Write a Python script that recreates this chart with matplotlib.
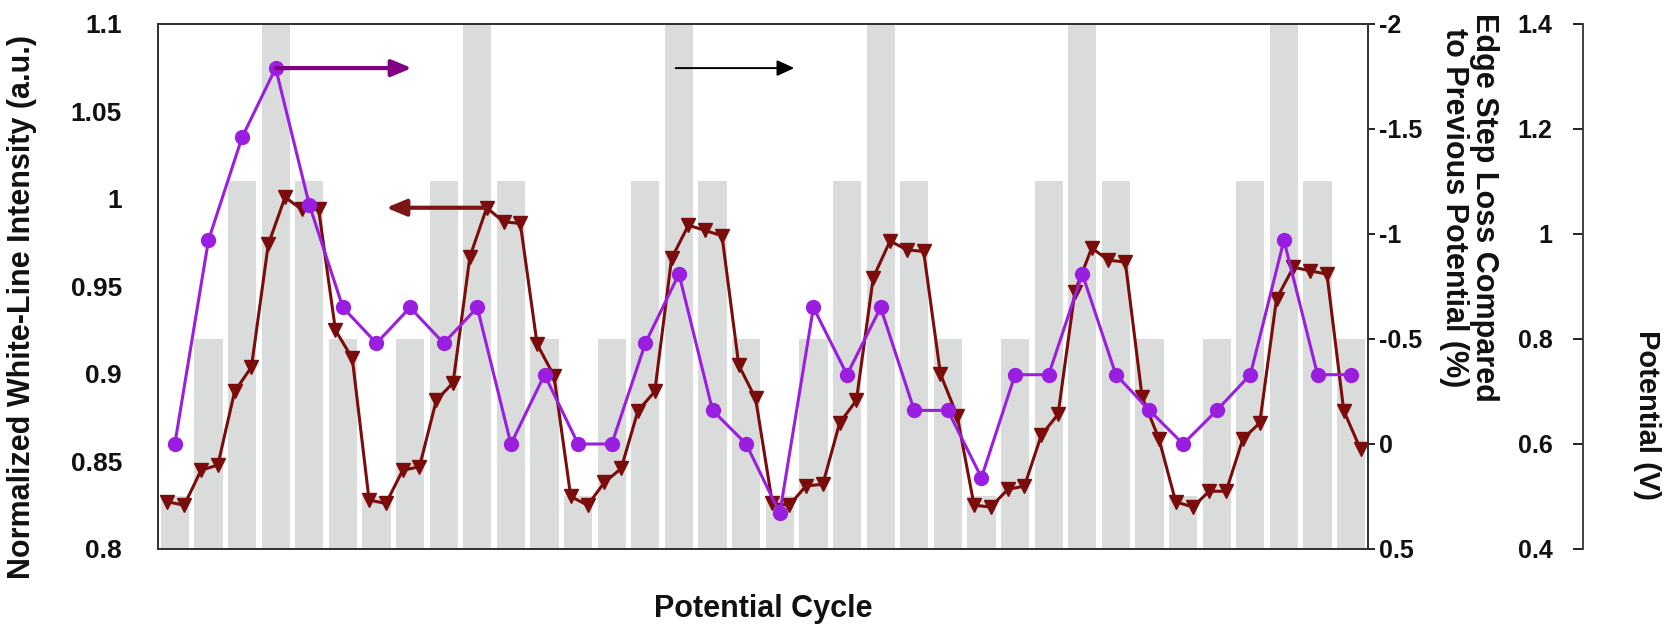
import numpy as np
import matplotlib
matplotlib.use("Agg")
from matplotlib import pyplot as plt
from matplotlib.ticker import FuncFormatter

plt.rcParams['font.family'] = ['Liberation Sans', 'DejaVu Sans']
plt.rcParams['font.weight'] = 'bold'
plt.rcParams['axes.labelweight'] = 'bold'

# applied potential for every step of the cycling (V)
potential = [0.5, 0.8, 1.1, 1.4, 1.1, 0.8,
             0.5, 0.8, 1.1, 1.4, 1.1, 0.8,
             0.5, 0.8, 1.1, 1.4, 1.1, 0.8,
             0.5, 0.8, 1.1, 1.4, 1.1, 0.8,
             0.5, 0.8, 1.1, 1.4, 1.1, 0.8,
             0.5, 0.8, 1.1, 1.4, 1.1, 0.8]

# normalized white-line intensity, two spectra per step
white_line = [0.827, 0.825, 0.845, 0.848, 0.890, 0.904, 0.974, 1.001,
              0.994, 0.994, 0.925, 0.909, 0.828, 0.826, 0.845, 0.847,
              0.885, 0.895, 0.967, 0.995, 0.987, 0.986, 0.917, 0.899,
              0.830, 0.825, 0.838, 0.846, 0.879, 0.890, 0.966, 0.985,
              0.982, 0.979, 0.905, 0.886, 0.826, 0.825, 0.836, 0.837,
              0.872, 0.885, 0.955, 0.976, 0.971, 0.970, 0.900, 0.876,
              0.825, 0.824, 0.834, 0.836, 0.865, 0.877, 0.947, 0.972,
              0.965, 0.964, 0.887, 0.863, 0.827, 0.824, 0.833, 0.833,
              0.863, 0.872, 0.943, 0.961, 0.959, 0.957, 0.879, 0.857]

# edge step loss compared to previous potential (%)
edge_loss = [0.0, -0.97, -1.46, -1.79, -1.14, -0.65,
             -0.48, -0.65, -0.48, -0.65, 0.0, -0.33,
             0.0, 0.0, -0.48, -0.81, -0.16, 0.0,
             0.33, -0.65, -0.33, -0.65, -0.16, -0.16,
             0.16, -0.33, -0.33, -0.81, -0.33, -0.16,
             0.0, -0.16, -0.33, -0.97, -0.33, -0.33]

steps = np.arange(len(potential))
wl_x = np.arange(len(white_line)) * 0.5 - 0.22

txt = '#111111'
fig = plt.figure(figsize=(16.65, 6.28), dpi=100)
ax = fig.add_axes([0.0949, 0.1258, 0.7267, 0.836])
ax2 = ax.twinx()
ax3 = ax.twinx()

ax3.set_zorder(0)
ax.set_zorder(1)
ax2.set_zorder(2)
for a in (ax, ax2, ax3):
    a.patch.set_visible(False)

# potential bars
ax3.bar(steps, potential, width=0.84, color='#dadcdb')
ax3.set_ylim(0.4, 1.4)
ax3.set_yticks([0.4, 0.6, 0.8, 1.0, 1.2, 1.4])
ax3.yaxis.set_major_formatter(FuncFormatter(lambda v, p: '%g' % v))
for s in ('top', 'bottom', 'right'):
    ax3.spines[s].set_visible(False)
ax3.spines['left'].set_visible(True)
ax3.spines['left'].set_position(('axes', 1.1777))
ax3.spines['left'].set_color('#333333')
ax3.spines['left'].set_linewidth(1.3)
ax3.yaxis.set_ticks_position('left')
ax3.tick_params(axis='y', direction='out', length=7, width=1.3, pad=15,
                labelsize=18, colors=txt)
ax3.yaxis.set_label_position('right')
ax3.set_ylabel('Potential (V)', fontsize=21, fontweight='bold', color=txt)
ax3.yaxis.label.set(rotation=270, va='center', ha='center', rotation_mode='anchor')
ax3.yaxis.set_label_coords(1.2306, 0.255)

# white-line intensity
ax.plot(wl_x, white_line, color='#7a0c0c', lw=2.2, marker='v', markersize=10)
ax.set_xlim(-0.5, 35.5)
ax.set_ylim(0.8, 1.1)
ax.set_yticks([0.8, 0.85, 0.9, 0.95, 1.0, 1.05, 1.1])
ax.yaxis.set_major_formatter(FuncFormatter(lambda v, p: '%g' % v))
ax.tick_params(axis='y', length=0, pad=26, labelsize=19, colors=txt)
ax.set_xticks([])
ax.set_ylabel('Normalized White-Line Intensity (a.u.)', fontsize=22,
              fontweight='bold', color=txt)
ax.yaxis.label.set(va='center', ha='center', rotation_mode='anchor')
ax.yaxis.set_label_coords(-0.1124, 0.46)
ax.set_xlabel('Potential Cycle', fontsize=22, fontweight='bold', color=txt)
ax.xaxis.label.set(va='center', ha='center')
ax.xaxis.set_label_coords(0.5, -0.115)
for s in ax.spines.values():
    s.set_color('#333333')
    s.set_linewidth(1.3)

# edge step loss
ax2.plot(steps, edge_loss, color='#9a1ee0', lw=2.2, marker='o', markersize=10)
ax2.set_ylim(0.5, -2)
ax2.set_yticks([-2, -1.5, -1, -0.5, 0, 0.5])
ax2.yaxis.set_major_formatter(FuncFormatter(lambda v, p: '%g' % v))
ax2.tick_params(axis='y', direction='out', length=5, width=1.3, pad=3,
                labelsize=18, colors=txt)
ax2.set_ylabel('Edge Step Loss Compared\nto Previous Potential (%)',
               fontsize=22, fontweight='bold', color=txt, linespacing=1.0)
ax2.yaxis.label.set(rotation=270, va='center', ha='center', rotation_mode='anchor')
ax2.yaxis.set_label_coords(1.0835, 0.65)
for s in ax2.spines.values():
    s.set_color('#333333')
    s.set_linewidth(1.3)

# arrows pointing to the axis each curve belongs to
ax2.annotate('', xy=(7.05, -1.79), xytext=(3, -1.79),
             arrowprops=dict(arrowstyle='-|>,head_length=0.6,head_width=0.25',
                             color='#800080', lw=3, mutation_scale=20,
                             shrinkA=0, shrinkB=0))
ax.annotate('', xy=(6.29, 0.995), xytext=(9.28, 0.995),
            arrowprops=dict(arrowstyle='-|>,head_length=0.6,head_width=0.25',
                            color='#7b1616', lw=3, mutation_scale=20,
                            shrinkA=0, shrinkB=0))
ax2.annotate('', xy=(18.43, -1.79), xytext=(14.9, -1.79),
             arrowprops=dict(arrowstyle='-|>,head_length=0.65,head_width=0.3',
                             color='black', lw=1.4, mutation_scale=16,
                             shrinkA=0, shrinkB=0))

fig.savefig('out.png', dpi=100)
